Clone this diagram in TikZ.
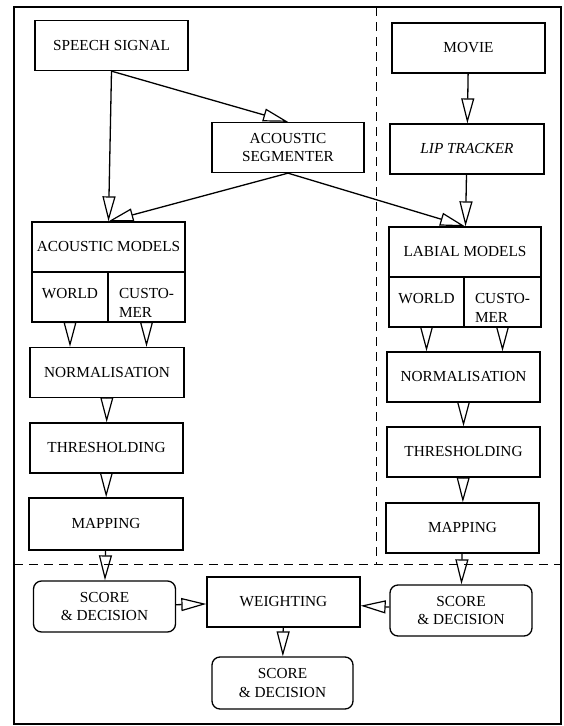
\documentclass[tikz,border=0pt]{standalone}
\usepackage{fontspec}
\setmainfont{Liberation Serif}
\usetikzlibrary{arrows.meta}

\begin{document}
\begin{tikzpicture}[
    x=1pt, y=-1pt,
    block/.style={draw, line width=1.3pt, minimum width=153pt, minimum height=50pt, align=center,
                  inner sep=2pt, font=\fontsize{15.3}{18.5}\selectfont},
    cell/.style={block, minimum width=76pt, text height=42pt, text depth=1.5pt},
    score/.style={block, rounded corners=8pt, minimum width=142pt, minimum height=51pt},
    arrow/.style={-{Triangle[open, length=25pt, width=13pt, line width=1.2pt]}, line width=1.3pt},
    sep/.style={dash pattern=on 9pt off 6pt, line width=1pt}
]
\useasboundingbox (0,0) rectangle (563,726);

% Frame and separators
\draw[line width=1.1pt] (14,7) rectangle (561,724);
\draw[sep] (376,7) -- (376,564);
\draw[sep] (14,564) -- (561,564);

% Acoustic branch
\node[block] (speech) at (111.5,45.5) {SPEECH SIGNAL};
\node[block, minimum width=152pt] (segm) at (288,147.5) {ACOUSTIC\\SEGMENTER};
\node[block] (am) at (108.5,247) {ACOUSTIC MODELS};
\node[cell] (worldA) at (70,297) {WORLD\\\strut};
\node[cell, minimum width=77pt, align=left] (custA) at (146.5,297) {CUSTO-\\MER};
\node[block, minimum width=154pt] (normA) at (107,372.5) {NORMALISATION};
\node[block] (threshA) at (106.5,448) {THRESHOLDING};
\node[block, minimum width=154pt, minimum height=52pt] (mapA) at (106,524) {MAPPING};

% Labial branch
\node[block] (movie) at (468.5,48) {MOVIE};
\node[block, minimum width=154pt] (lip) at (467,149) {\itshape LIP TRACKER};
\node[block, minimum width=152pt] (lm) at (465,252) {LABIAL MODELS};
\node[cell, minimum width=75pt] (worldL) at (426.5,302) {WORLD\\\strut};
\node[cell, minimum width=77pt, align=left] (custL) at (502.5,302) {CUSTO-\\MER};
\node[block] (normL) at (463.5,377) {NORMALISATION};
\node[block] (threshL) at (463.5,452) {THRESHOLDING};
\node[block] (mapL) at (462.5,528) {MAPPING};

% Fusion
\node[score] (scoreA) at (104.5,606.5) {SCORE\\\& DECISION};
\node[block] (weight) at (283.5,602) {WEIGHTING};
\node[score] (scoreL) at (461,610.5) {SCORE\\\& DECISION};
\node[score, minimum width=141pt, minimum height=52pt] (scoreF) at (282.5,683) {SCORE\\\& DECISION};

% Arrows
\draw[arrow] (speech.south) -- (am.north);
\draw[arrow] (speech.south) -- (segm.north);
\draw[arrow] (segm.south) -- (am.north);
\draw[arrow] (segm.south) -- (lm.north);
\draw[arrow] (worldA.south) -- (worldA.south |- normA.north);
\draw[arrow] (custA.south) -- (custA.south |- normA.north);
\draw[arrow] (normA) -- (threshA);
\draw[arrow] (threshA) -- (mapA);
\draw[arrow] (mapA) -- (scoreA);

\draw[arrow] (movie) -- (lip);
\draw[arrow] (lip) -- (lm);
\draw[arrow] (worldL.south) -- (worldL.south |- normL.north);
\draw[arrow] (custL.south) -- (custL.south |- normL.north);
\draw[arrow] (normL) -- (threshL);
\draw[arrow] (threshL) -- (mapL);
\draw[arrow] (mapL) -- (scoreL);

\draw[arrow] (scoreA) -- (weight);
\draw[arrow] (scoreL) -- (weight);
\draw[arrow] (weight) -- (scoreF);

\end{tikzpicture}
\end{document}
